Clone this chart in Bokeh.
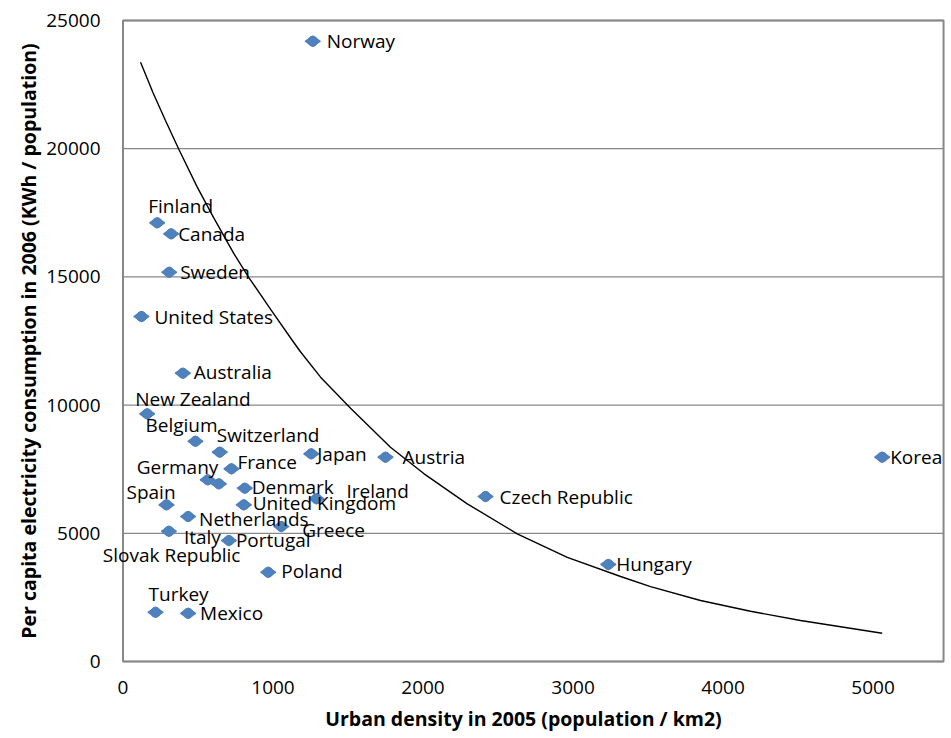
from bokeh.plotting import figure
from bokeh.models import ColumnDataSource, Range1d, FixedTicker, Label
from bokeh.embed import file_html
from bokeh.resources import INLINE

# Urban density (population / km2, 2005) and per capita electricity use (kWh, 2006)
countries = [
    "Norway", "Finland", "Canada", "Sweden", "United States", "Australia",
    "New Zealand", "Belgium", "Switzerland", "Japan", "Austria", "Korea",
    "France", "Germany", "Slovak Republic", "Denmark", "Ireland",
    "United Kingdom", "Czech Republic", "Spain", "Netherlands", "Greece",
    "Italy", "Portugal", "Hungary", "Poland", "Turkey", "Mexico",
]
density = [
    1265, 228, 321, 308, 123, 399,
    161, 483, 645, 1255, 1750, 5061,
    723, 565, 639, 812, 1290,
    805, 2417, 290, 434, 1055,
    306, 706, 3235, 968, 217, 434,
]
electricity = [
    24190, 17110, 16680, 15180, 13455, 11245,
    9660, 8590, 8165, 8100, 7970, 7970,
    7515, 7085, 6930, 6760, 6345,
    6110, 6435, 6110, 5655, 5265,
    5080, 4720, 3785, 3480, 1920, 1880,
]

# Trend curve, sampled along its length
trend_x = [117, 201, 283, 372, 495, 605, 739, 839, 983, 1128, 1183, 1317,
           1517, 1783, 2005, 2295, 2628, 2962, 3317, 3517, 3850, 4183,
           4517, 5061]
trend_y = [23374, 22170, 21100, 19980, 18500, 17300, 15910, 14975, 13740,
           12530, 12080, 11090, 9880, 8358, 7330, 6150, 4981, 4060, 3315,
           2920, 2379, 1960, 1599, 1104]

x_ticks = [0, 1000, 2000, 3000, 4000, 5000]
y_ticks = [0, 5000, 10000, 15000, 20000, 25000]

# extent of the bordered plot area, in data units
X_MAX = 5470
Y_MAX = 25000

# Screen-pixel placement of each data label relative to its marker
label_offsets = {
    "Norway": (14, 0), "Finland": (-9, -17), "Canada": (7, 0),
    "Sweden": (11, 0), "United States": (13, 0), "Australia": (11, -1),
    "New Zealand": (-12, -15), "Belgium": (-50, -16),
    "Switzerland": (-3, -17), "Japan": (6, 0), "Austria": (17, 0),
    "Korea": (8, 0), "France": (6, -7), "Germany": (-71, -13),
    "Slovak Republic": (-116, 71), "Denmark": (7, -1), "Ireland": (30, -8),
    "United Kingdom": (9, -2), "Czech Republic": (14, 0),
    "Spain": (-40, -13), "Netherlands": (11, 2), "Greece": (21, 3),
    "Italy": (15, 6), "Portugal": (7, 0), "Hungary": (8, 0),
    "Poland": (13, -1), "Turkey": (-7, -18), "Mexico": (12, 0),
}

source = ColumnDataSource(data=dict(x=density, y=electricity, name=countries))

FONT = "Open Sans"
GRID = "#888888"
BLUE = "#4F81BD"

# The frame is a little wider than the bordered area so that data labels
# placed beside the border (left and right) are not clipped.
p = figure(
    width=951, height=738,
    x_range=Range1d(-150, 5523), y_range=Range1d(-78, 25078),
    output_backend="svg", toolbar_location=None,
    min_border_left=100, min_border_right=0,
    min_border_top=18, min_border_bottom=75,
)
p.background_fill_color = "white"
p.border_fill_color = "white"
p.outline_line_color = None
p.xgrid.visible = False
p.ygrid.visible = False

p.xaxis.ticker = FixedTicker(ticks=x_ticks)
p.yaxis.ticker = FixedTicker(ticks=y_ticks)

for ax in (p.xaxis, p.yaxis):
    ax.axis_line_color = None
    ax.major_tick_line_color = None
    ax.minor_tick_line_color = None
    ax.major_tick_out = 0
    ax.major_tick_in = 0
    ax.major_label_text_font = FONT
    ax.major_label_text_font_size = "19px"
    ax.major_label_text_color = "black"
    ax.axis_label_text_font = FONT
    ax.axis_label_text_font_size = "19.5px"
    ax.axis_label_text_font_style = "bold"
    ax.axis_label_text_color = "black"

p.xaxis.axis_label = "Urban density  in 2005 (population / km2)"
p.yaxis.axis_label = "Per capita electricity consumption in 2006 (KWh / population)"
p.xaxis.major_label_standoff = 17
p.yaxis.major_label_standoff = 0
p.xaxis.axis_label_standoff = 8
p.yaxis.axis_label_standoff = 1

# horizontal gridlines across the bordered area
p.segment(x0=[0] * len(y_ticks), x1=[X_MAX] * len(y_ticks),
          y0=y_ticks, y1=y_ticks, line_color=GRID, line_width=1.3)

# plot-area border
p.quad(left=[0], right=[X_MAX], bottom=[0], top=[Y_MAX],
       fill_color=None, line_color=GRID, line_width=2)

# trend curve
p.line(trend_x, trend_y, line_color="black", line_width=1.4)

# country markers: a rounded, slightly flattened diamond
p.scatter("x", "y", source=source, marker="diamond", angle=1.5708,
          size=14, fill_color=BLUE, line_color=BLUE,
          line_width=2, line_join="round")
p.scatter("x", "y", source=source, marker="circle", size=10,
          fill_color=BLUE, line_color=BLUE, line_width=1)

# country labels, one annotation per point
for name, xv, yv in zip(countries, density, electricity):
    dx, dy = label_offsets[name]
    p.add_layout(Label(
        x=xv, y=yv, text=name, x_offset=dx, y_offset=-dy,
        text_font=FONT, text_font_size="19px", text_color="black",
        text_align="left", text_baseline="middle", level="overlay",
    ))

open("out.html", "w").write(file_html(p, INLINE))
